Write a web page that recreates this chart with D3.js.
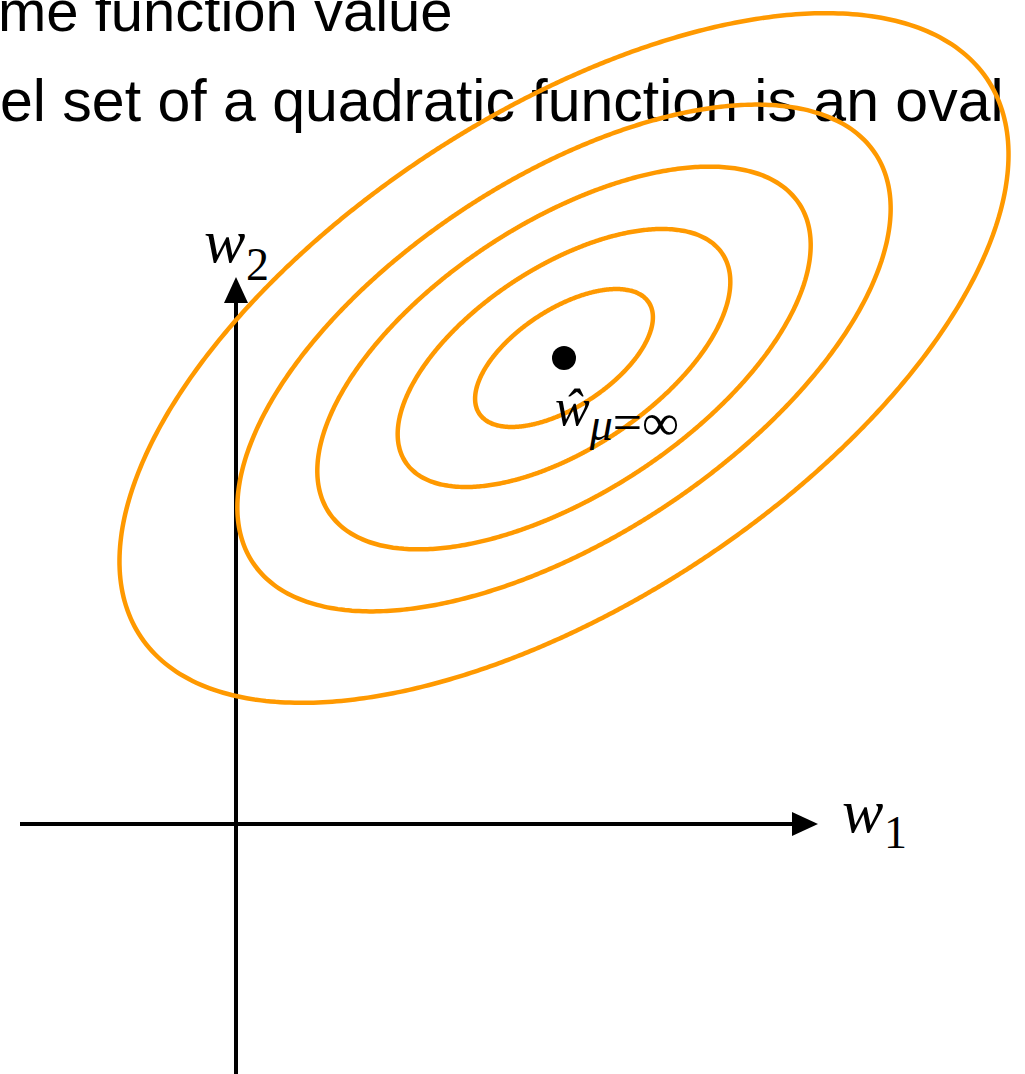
<!DOCTYPE html>
<html>
<head>
<meta charset="utf-8">
<script src="https://cdn.jsdelivr.net/npm/d3@7"></script>
<style>
  html, body { margin: 0; padding: 0; background: #fff; }
  svg { display: block; }
</style>
</head>
<body>
<svg id="chart" width="1025" height="1074"></svg>
<script>
// Slide text (cropped at the page edges)
const slideLines = ["me function value", "el set of a quadratic function is an oval"];

// Minimiser of the quadratic loss
const wHat = [3.28, 4.66];

// Hessian entries of f(w) = (w - wHat)^T H (w - wHat): [h11, h12, h22]
const hessian = [1.94, -1.475, 3.224];

// Function values of the drawn level sets, inner to outer
const levels = [1, 3.5, 7.7, 13.5, 25];

// Axis shaft extents in w units (arrowheads continue past the ends)
const w1Range = [-2.16, 5.58];
const w2Range = [-2.5, 5.23];

const svg = d3.select("#chart");

// 100 px per unit, origin at (236, 824)
const x = d3.scaleLinear().domain([0, 1]).range([236, 336]);
const y = d3.scaleLinear().domain([0, 1]).range([824, 724]);

// Slide text, behind the figure
svg.append("g")
  .selectAll("text")
  .data(slideLines)
  .join("text")
  .attr("x", (d, i) => i === 0 ? -2 : 0)
  .attr("y", (d, i) => 31 + i * 90)
  .attr("font-family", "'Liberation Sans', Arial, Helvetica, sans-serif")
  .attr("font-size", (d, i) => i === 0 ? 58 : 59)
  .attr("fill", "#000")
  .text(d => d);

// Arrowhead
const defs = svg.append("defs");
defs.append("marker")
  .attr("id", "arrow")
  .attr("viewBox", "0 0 26 24")
  .attr("refX", 2)
  .attr("refY", 12)
  .attr("markerUnits", "userSpaceOnUse")
  .attr("markerWidth", 26)
  .attr("markerHeight", 24)
  .attr("orient", "auto")
  .append("path")
  .attr("d", "M0,0 L26,12 L0,24 Z")
  .attr("fill", "#000");

// Axes
const axes = svg.append("g")
  .attr("stroke", "#000")
  .attr("stroke-width", 4);

axes.append("line")
  .attr("x1", x(w1Range[0])).attr("y1", y(0))
  .attr("x2", x(w1Range[1])).attr("y2", y(0))
  .attr("marker-end", "url(#arrow)");

axes.append("line")
  .attr("x1", x(0)).attr("y1", y(w2Range[0]))
  .attr("x2", x(0)).attr("y2", y(w2Range[1]))
  .attr("marker-end", "url(#arrow)");

// Level sets: along each direction u, f(wHat + r u) = c  =>  r = sqrt(c / (u^T H u))
const [h11, h12, h22] = hessian;
const angles = d3.range(0, 360, 1).map(a => a * Math.PI / 180);
function levelSet(c) {
  return angles.map(t => {
    const ux = Math.cos(t), uy = Math.sin(t);
    const q = h11 * ux * ux + 2 * h12 * ux * uy + h22 * uy * uy;
    const r = Math.sqrt(c / q);
    return [wHat[0] + r * ux, wHat[1] + r * uy];
  });
}

const line = d3.line()
  .x(d => x(d[0]))
  .y(d => y(d[1]))
  .curve(d3.curveCardinalClosed.tension(0.5));

svg.append("g")
  .selectAll("path")
  .data(levels)
  .join("path")
  .attr("d", c => line(levelSet(c)))
  .attr("fill", "none")
  .attr("stroke", "#ff9900")
  .attr("stroke-width", 4.5);

// Minimiser point
svg.append("circle")
  .attr("cx", x(wHat[0]))
  .attr("cy", y(wHat[1]))
  .attr("r", 12)
  .attr("fill", "#000");

// Math labels
const serif = "'Liberation Serif', 'Times New Roman', Times, serif";
const labels = svg.append("g").attr("font-family", serif).attr("fill", "#000");

// w1
labels.append("text").attr("x", 842).attr("y", 832)
  .attr("font-size", 62).attr("font-style", "italic").text("w");
labels.append("text").attr("x", 884).attr("y", 848)
  .attr("font-size", 46).text("1");

// w2
labels.append("text").attr("x", 204).attr("y", 262)
  .attr("font-size", 62).attr("font-style", "italic").text("w");
labels.append("text").attr("x", 246).attr("y", 280)
  .attr("font-size", 46).text("2");

// w-hat with subscript mu = infinity
const hatLabel = labels.append("text").attr("x", 555).attr("y", 425);
hatLabel.append("tspan").attr("font-size", 52).attr("font-style", "italic").text("\u0175");
hatLabel.append("tspan").attr("font-size", 46).attr("font-style", "italic").attr("dy", 15).text("\u03BC");
hatLabel.append("tspan").attr("font-size", 52).text("=\u221E");
</script>
</body>
</html>
